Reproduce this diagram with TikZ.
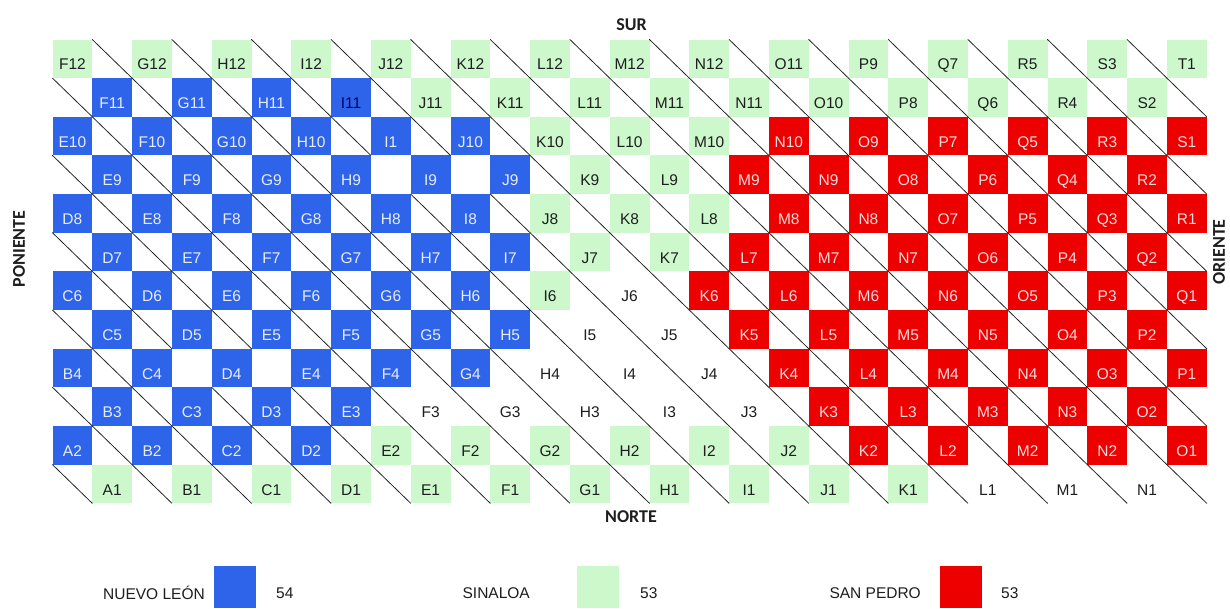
\documentclass[tikz,border=0pt]{standalone}
\usepackage{fontspec}
\setmainfont{Liberation Sans}
\newfontfamily\calfont{Carlito}
\definecolor{nlblue}{RGB}{46,100,234}
\definecolor{sing}{RGB}{204,248,204}
\definecolor{spred}{RGB}{236,0,0}
\definecolor{darkt}{RGB}{30,30,30}
\def\gx{52.5}
\def\cw{39.8}
\def\gy{39.5}
\def\rh{38.65}
\expandafter\def\csname skip@3-8\endcsname{}
\expandafter\def\csname skip@3-10\endcsname{}
\expandafter\def\csname skip@8-3\endcsname{}
\expandafter\def\csname skip@8-5\endcsname{}
\tikzset{
  cellbox/.style={draw=none, inner sep=0pt, minimum width=39.8pt, minimum height=38.65pt},
  cellB/.style={fill=nlblue}, cellD/.style={fill=nlblue},
  cellG/.style={fill=sing}, cellR/.style={fill=spred}, cellW/.style={},
  lbl/.style={inner sep=0pt, font=\fontsize{15.5}{16}\selectfont, text height=11.2pt, text depth=0pt},
  txtB/.style={text=white!88!nlblue}, txtD/.style={text=blue!40!black},
  txtR/.style={text=white!85!spred}, txtG/.style={text=darkt}, txtW/.style={text=darkt},
  diag/.style={line width=0.8pt, black!85, line cap=round},
  dirlbl/.style={inner sep=0pt, text=darkt, font=\calfont\bfseries\fontsize{18}{19}\selectfont},
  legtxt/.style={inner sep=0pt, text=darkt, font=\fontsize{15.5}{16}\selectfont},
  legbox/.style={draw=none, inner sep=0pt, minimum width=42pt, minimum height=42pt}
}
\newcommand\cellrow[3]{%
  \foreach \lab/\typ [count=\i from 0] in {#3}{%
    \pgfmathsetmacro\cx{\gx+(#2+2*\i+0.5)*\cw}%
    \pgfmathsetmacro\cy{\gy+(#1+0.5)*\rh}%
    \pgfmathtruncatemacro\cc{#2+2*\i}%
    \node[cellbox, cell\typ] (c-#1-\cc) at (\cx,\cy) {};
    \node[lbl, txt\typ] (t-#1-\cc) at ([yshift=-5.5pt]c-#1-\cc.center) {\lab};
  }}
\begin{document}
\begin{tikzpicture}[x=1pt,y=-1pt]
\useasboundingbox[fill=white] (0,0) rectangle (1230,608);
\cellrow{0}{0}{F12/G,G12/G,H12/G,I12/G,J12/G,K12/G,L12/G,M12/G,N12/G,O11/G,P9/G,Q7/G,R5/G,S3/G,T1/G}
\cellrow{1}{1}{F11/B,G11/B,H11/B,I11/D,J11/G,K11/G,L11/G,M11/G,N11/G,O10/G,P8/G,Q6/G,R4/G,S2/G}
\cellrow{2}{0}{E10/B,F10/B,G10/B,H10/B,I1/B,J10/B,K10/G,L10/G,M10/G,N10/R,O9/R,P7/R,Q5/R,R3/R,S1/R}
\cellrow{3}{1}{E9/B,F9/B,G9/B,H9/B,I9/B,J9/B,K9/G,L9/G,M9/R,N9/R,O8/R,P6/R,Q4/R,R2/R}
\cellrow{4}{0}{D8/B,E8/B,F8/B,G8/B,H8/B,I8/B,J8/G,K8/G,L8/G,M8/R,N8/R,O7/R,P5/R,Q3/R,R1/R}
\cellrow{5}{1}{D7/B,E7/B,F7/B,G7/B,H7/B,I7/B,J7/G,K7/G,L7/R,M7/R,N7/R,O6/R,P4/R,Q2/R}
\cellrow{6}{0}{C6/B,D6/B,E6/B,F6/B,G6/B,H6/B,I6/G,J6/W,K6/R,L6/R,M6/R,N6/R,O5/R,P3/R,Q1/R}
\cellrow{7}{1}{C5/B,D5/B,E5/B,F5/B,G5/B,H5/B,I5/W,J5/W,K5/R,L5/R,M5/R,N5/R,O4/R,P2/R}
\cellrow{8}{0}{B4/B,C4/B,D4/B,E4/B,F4/B,G4/B,H4/W,I4/W,J4/W,K4/R,L4/R,M4/R,N4/R,O3/R,P1/R}
\cellrow{9}{1}{B3/B,C3/B,D3/B,E3/B,F3/W,G3/W,H3/W,I3/W,J3/W,K3/R,L3/R,M3/R,N3/R,O2/R}
\cellrow{10}{0}{A2/B,B2/B,C2/B,D2/B,E2/G,F2/G,G2/G,H2/G,I2/G,J2/G,K2/R,L2/R,M2/R,N2/R,O1/R}
\cellrow{11}{1}{A1/G,B1/G,C1/G,D1/G,E1/G,F1/G,G1/G,H1/G,I1/G,J1/G,K1/G,L1/W,M1/W,N1/W}
\foreach \r in {0,...,11}{\foreach \c in {0,...,28}{%
  \pgfmathtruncatemacro\pp{mod(\r+\c,2)}%
  \ifnum\pp=1
    \ifcsname skip@\r-\c\endcsname\else
      \draw[diag] (\gx+\c*\cw, \gy+\r*\rh) -- (\gx+\c*\cw+\cw, \gy+\r*\rh+\rh);
    \fi
  \fi}}
\node[dirlbl] (sur) at (631.5,24.5) {SUR};
\node[dirlbl] (norte) at (631,517) {NORTE};
\node[dirlbl, rotate=90] (poniente) at (19,249) {PONIENTE};
\node[dirlbl, rotate=90] (oriente) at (1219,252) {ORIENTE};
\node[legtxt, anchor=east] (nl) at (205,593) {NUEVO LEÓN};
\node[legbox, fill=nlblue] (nlbox) at (235,587) {};
\node[legtxt, anchor=west] (nln) at (276,593) {54};
\node[legtxt, anchor=east] (sn) at (530,593) {SINALOA};
\node[legbox, fill=sing] (snbox) at (598,587) {};
\node[legtxt, anchor=west] (snn) at (640,593) {53};
\node[legtxt, anchor=east] (sp) at (921,593) {SAN PEDRO};
\node[legbox, fill=spred] (spbox) at (961,587) {};
\node[legtxt, anchor=west] (spn) at (1001,593) {53};
\end{tikzpicture}
\end{document}
